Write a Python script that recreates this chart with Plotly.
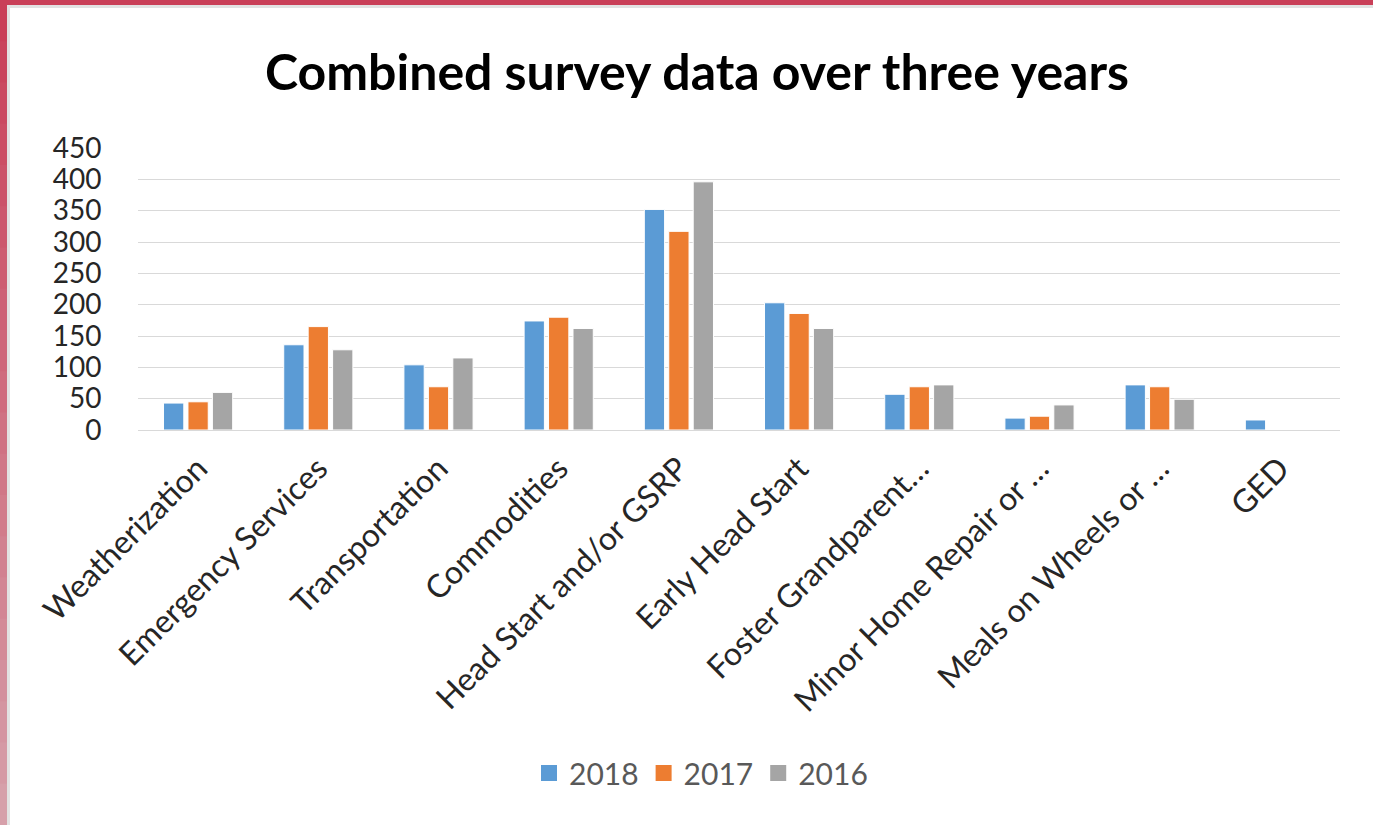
import plotly.graph_objects as go

categories = ["Weatherization", "Emergency Services", "Transportation", "Commodities",
              "Head Start and/or GSRP", "Early Head Start", "Foster Grandparent…",
              "Minor Home Repair or …", "Meals on Wheels or …", "GED"]
v2018 = [43, 136, 104, 174, 352, 203, 57, 19, 72, 16]
v2017 = [45, 165, 69, 180, 317, 186, 69, 22, 69, 0]
v2016 = [60, 128, 115, 162, 396, 162, 72, 40, 49, 0]
series_names = ["2018", "2017", "2016"]
colors = ["#5B9BD5", "#ED7D31", "#A5A5A5"]
y_ticks = [0, 50, 100, 150, 200, 250, 300, 350, 400, 450]

W, H = 1373, 825
ML, MR, MT, MB = 138, 33, 148, 395
PW = W - ML - MR
PH = H - MT - MB

FONT = "Lato, 'Open Sans', sans-serif"

fig = go.Figure()
for name, vals, c in zip(series_names, [v2018, v2017, v2016], colors):
    fig.add_trace(go.Bar(
        x=categories, y=vals, name=name, showlegend=False, legendgroup=name,
        marker=dict(color=c, line=dict(color="white", width=1)),
    ))
for name, c in zip(series_names, colors):
    fig.add_trace(go.Scatter(
        x=[None], y=[None], mode="markers", name=name, legendgroup=name,
        marker=dict(symbol="square", size=20, color=c),
    ))

def px2x(px):
    return (px - ML) / PW

def py2y(py):
    return (H - MB - py) / PH

shapes = []
shapes.append(dict(type="rect", xref="paper", yref="paper",
                   x0=px2x(0), x1=px2x(W), y0=py2y(0), y1=py2y(5),
                   fillcolor="#C93F58", line=dict(width=0), layer="above"))
shapes.append(dict(type="rect", xref="paper", yref="paper",
                   x0=px2x(7), x1=px2x(W), y0=py2y(5), y1=py2y(8),
                   fillcolor="#E2E2E2", line=dict(width=0), layer="above"))
n = 20
c0 = (201, 63, 88)
c1 = (214, 160, 170)
for i in range(n):
    t = i / (n - 1)
    col = "rgb(%d,%d,%d)" % tuple(int(a + (b - a) * t) for a, b in zip(c0, c1))
    shapes.append(dict(type="rect", xref="paper", yref="paper",
                       x0=px2x(0), x1=px2x(7),
                       y0=py2y(H * i / n), y1=py2y(H * (i + 1) / n + 1),
                       fillcolor=col, line=dict(width=0), layer="above"))
shapes.append(dict(type="rect", xref="paper", yref="paper",
                   x0=px2x(7), x1=px2x(10), y0=py2y(5), y1=py2y(H),
                   fillcolor="#E2E2E2", line=dict(width=0), layer="above"))

fig.update_layout(
    width=W, height=H,
    margin=dict(l=ML, r=MR, t=MT, b=MB, autoexpand=False),
    paper_bgcolor="white", plot_bgcolor="white",
    barmode="group", bargap=0.39, bargroupgap=0.17,
    title=dict(text="<b>Combined survey data over three years</b>",
               x=697 / W, xref="container", xanchor="center",
               y=1 - 72 / H, yref="container", yanchor="middle",
               font=dict(family=FONT, size=50, color="#000000")),
    xaxis=dict(tickangle=-45, tickfont=dict(family=FONT, size=32, color="#262626"),
               showgrid=False, showline=True, linecolor="#D9D9D9", linewidth=1,
               ticks="outside", ticklen=6, tickcolor="rgba(0,0,0,0)", automargin=False),
    yaxis=dict(range=[0, 450], tickvals=y_ticks, showgrid=True, gridcolor="#D9D9D9",
               gridwidth=1, zeroline=False, showline=False,
               ticks="outside", ticklen=30, tickcolor="rgba(0,0,0,0)",
               tickfont=dict(family=FONT, size=28, color="#262626"), automargin=False),
    legend=dict(orientation="h", x=px2x(701), xanchor="center",
                y=py2y(773), yanchor="middle", itemwidth=30,
                font=dict(family=FONT, size=30, color="#595959"),
                traceorder="normal"),
    shapes=shapes,
    showlegend=True,
)

fig.write_html("out.html")
